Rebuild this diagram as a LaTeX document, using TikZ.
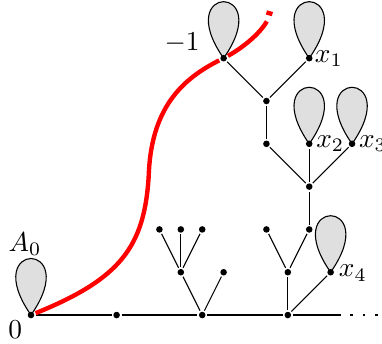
\documentclass[tikz,border=0pt]{standalone}
\usepackage{amsmath}
\usepackage{tikz}
\usetikzlibrary{backgrounds}
\begin{document}
\begin{tikzpicture}[x=0.55cm, y=0.55cm, dot/.style={circle, fill=black, inner sep=0pt, minimum size=2.4pt, outer sep=0.6pt}, petal/.style={draw=black, fill=gray!25}, redline/.style={draw=red, line width=1.6pt}]
				\useasboundingbox (-0.724,-0.654) rectangle (8.2,7.36);
				\node (o) at (0,0) [dot] {};
				\node (b1) at (2,0) [dot] {};
				\node (b2) at (4,0) [dot] {};
				\node (b3) at (6,0) [dot] {};
				\coordinate (bend) at (7.17,0);
				\coordinate (binf) at (8.1,0);
				\node (c1) at (3.5,1) [dot] {};
				\node (c2) at (4.5,1) [dot] {};
				\node (d1) at (3,2) [dot] {};
				\node (d2) at (3.5,2) [dot] {};
				\node (d3) at (4,2) [dot] {};
				\node (e1) at (6,1) [dot] {};
				\node (e2) at (7,1) [dot] {};
				\node (f1) at (5.5,2) [dot] {};
				\node (f2) at (6.5,2) [dot] {};
				\node (g) at (6.5,3) [dot] {};
				\node (h1) at (5.5,4) [dot] {};
				\node (h2) at (6.5,4) [dot] {};
				\node (h3) at (7.5,4) [dot] {};
				\node (k) at (5.5,5) [dot] {};
				\node (m1) at (4.5,6) [dot] {};
				\node (m2) at (6.5,6) [dot] {};
				
				\node (lo) at (-0.37,-0.35) {$0$};
				\node (la) at (-0.14,1.66) {$A_0$};
				\node (lm) at (3.53,6.36) {$-1$};
				\node (lx1) at (6.96,6.0) {$x_1$};
				\node (lx2) at (6.99,4.0) {$x_2$};
				\node (lx3) at (7.99,4.0) {$x_3$};
				\node (lx4) at (7.52,0.98) {$x_4$};
				
				\begin{scope}[on background layer]
					\foreach \n in {o,e2,h2,h3,m1,m2}
						\draw[petal] (\n.center) .. controls +(125:2.15) and +(55:2.15) .. (\n.center);
				\end{scope}
				
				\draw (o) -- (b1) -- (b2) -- (b3) -- (bend);
				\draw[dash pattern=on 1pt off 3.5pt] (bend) -- (binf);
				\draw (b2) -- (c1);
				\draw (b2) -- (c2);
				\draw (c1) -- (d1);
				\draw (c1) -- (d2);
				\draw (c1) -- (d3);
				\draw (b3) -- (e1);
				\draw (b3) -- (e2);
				\draw (e1) -- (f1);
				\draw (e1) -- (f2);
				\draw (f2) -- (g);
				\draw (g) -- (h1);
				\draw (g) -- (h2);
				\draw (g) -- (h3);
				\draw (h1) -- (k);
				\draw (k) -- (m1);
				\draw (k) -- (m2);
				
				\coordinate (r1) at (2.75,3.25);
				\coordinate (rend) at (5.51,6.86);
				\coordinate (rd1) at (5.50,7.07);
				\coordinate (rd2) at (5.64,7.03);
				\draw[redline] (o) .. controls (2.1,0.85) and (2.65,1.6) .. (r1) .. controls (2.8,4.8) and (3.5,5.5) .. (m1) .. controls (4.94,6.24) and (5.335,6.56) .. (rend);
				\draw[redline] (rd1) -- (rd2);
			\end{tikzpicture}
\end{document}
